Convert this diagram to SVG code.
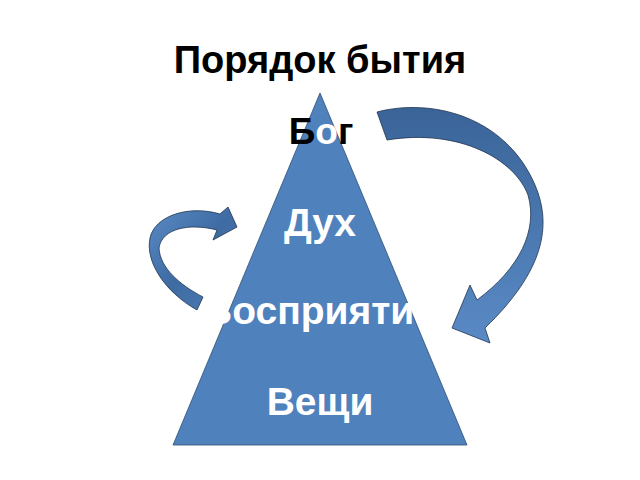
<svg xmlns="http://www.w3.org/2000/svg" width="640" height="480" viewBox="0 0 640 480">
<defs>
<style>
.t{font-family:"Liberation Sans",Arial,sans-serif;font-weight:bold;text-anchor:middle}
.w{fill:#ffffff}
.arr{stroke:#1f3550;stroke-width:0.8;stroke-linejoin:miter}
</style>
<linearGradient id="gr" x1="0" y1="0" x2="0" y2="1">
<stop offset="0" stop-color="#3a6498"/>
<stop offset="1" stop-color="#5a8ac6"/>
</linearGradient>
<linearGradient id="gl" x1="0" y1="0" x2="1" y2="1">
<stop offset="0" stop-color="#5a8ac6"/>
<stop offset="0.5" stop-color="#3e6ba2"/>
<stop offset="1" stop-color="#4d7cb6"/>
</linearGradient>
</defs>
<rect width="640" height="480" fill="#ffffff"/>
<text class="t" x="320" y="73" font-size="38" fill="#000000">Порядок бытия</text>
<g id="pyramid">
<polygon points="320,93 173,445 467,445" fill="#4f81bd" stroke="#2f4f75" stroke-width="0.8"/>
<text class="t" x="321" y="144" font-size="37"><tspan fill="#000000">Б</tspan><tspan fill="#ffffff">о</tspan><tspan fill="#000000">г</tspan></text>
<text class="t w" x="320" y="236" font-size="39">Дух</text>
<text class="t w" x="320" y="324" font-size="39">Восприятие</text>
<text class="t w" x="320" y="415" font-size="39">Вещи</text>
</g>
<g id="connectors">
<path id="arrow-right" class="arr" fill="url(#gr)" d="M 377 112 C 430 98 505 115 535 185 C 552 225 545 270 485 328 L 490 343 L 452 328 L 470 285 L 477 300 C 520 268 538 230 528 195 C 515 160 460 128 387 140 Z"/>
<path id="arrow-left" class="arr" fill="url(#gl)" d="M 197 310 C 165 292 145 262 150 238 C 155 215 190 205 220 214 L 228 207 L 237 227 L 213 240 L 217 230 C 190 223 162 228 159 248 C 160 268 180 285 203 297 Z"/>
</g>
</svg>
